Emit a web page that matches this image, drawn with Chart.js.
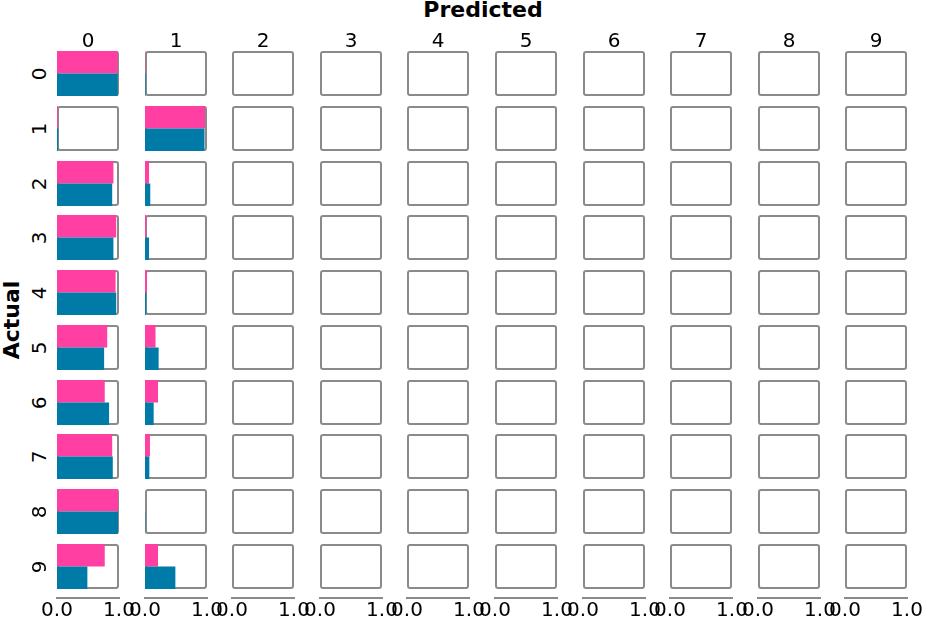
<!DOCTYPE html>
<html>
<head>
<meta charset="utf-8">
<script src="https://cdn.jsdelivr.net/npm/chart.js@4"></script>
<style>
  html, body { margin: 0; padding: 0; background: #fff; }
  #wrap { position: relative; width: 934px; height: 620px; overflow: hidden; font-family: "DejaVu Sans", sans-serif; color: #000; }
  #wrap canvas { position: absolute; }
  .lbl { position: absolute; white-space: nowrap; transform: translate(-50%, -50%); line-height: 1; }
  .rot { transform: translate(-50%, -50%) rotate(-90deg); }
</style>
</head>
<body>
<div id="wrap"></div>
<script>
// ---- data ----
const predictedLabels = ['0','1','2','3','4','5','6','7','8','9'];
const actualLabels    = ['0','1','2','3','4','5','6','7','8','9'];
const seriesNames = ['pink', 'blue'];
// rows = actual class, columns = predicted class
const pinkValues = [
  [0.980, 0.005, 0, 0, 0, 0, 0, 0, 0, 0],
  [0.015, 0.970, 0, 0, 0, 0, 0, 0, 0, 0],
  [0.910, 0.065, 0, 0, 0, 0, 0, 0, 0, 0],
  [0.955, 0.020, 0, 0, 0, 0, 0, 0, 0, 0],
  [0.945, 0.030, 0, 0, 0, 0, 0, 0, 0, 0],
  [0.810, 0.170, 0, 0, 0, 0, 0, 0, 0, 0],
  [0.770, 0.210, 0, 0, 0, 0, 0, 0, 0, 0],
  [0.890, 0.080, 0, 0, 0, 0, 0, 0, 0, 0],
  [0.985, 0.000, 0, 0, 0, 0, 0, 0, 0, 0],
  [0.770, 0.210, 0, 0, 0, 0, 0, 0, 0, 0]
];
const blueValues = [
  [0.980, 0.010, 0, 0, 0, 0, 0, 0, 0, 0],
  [0.020, 0.960, 0, 0, 0, 0, 0, 0, 0, 0],
  [0.890, 0.085, 0, 0, 0, 0, 0, 0, 0, 0],
  [0.910, 0.065, 0, 0, 0, 0, 0, 0, 0, 0],
  [0.955, 0.020, 0, 0, 0, 0, 0, 0, 0, 0],
  [0.760, 0.220, 0, 0, 0, 0, 0, 0, 0, 0],
  [0.840, 0.140, 0, 0, 0, 0, 0, 0, 0, 0],
  [0.900, 0.070, 0, 0, 0, 0, 0, 0, 0, 0],
  [0.985, 0.005, 0, 0, 0, 0, 0, 0, 0, 0],
  [0.490, 0.490, 0, 0, 0, 0, 0, 0, 0, 0]
];
const tickValues = [0, 1];
const tickLabels = ['0.0', '1.0'];

// ---- styles ----
const PINK = '#ff3fa1';
const BLUE = '#007ba7';
const FRAME = '#8a8a8a';
const FONT = '"DejaVu Sans", sans-serif';
const CELL_W = 62, CELL_H = 45;
const colLeft = c => Math.round(57 + 87.6 * c);
const rowTop  = r => Math.round(51 + 54.78 * r);

const wrap = document.getElementById('wrap');
function addCanvas(left, top, w, h) {
  const cv = document.createElement('canvas');
  cv.width = w; cv.height = h;
  cv.style.left = left + 'px'; cv.style.top = top + 'px';
  cv.style.width = w + 'px'; cv.style.height = h + 'px';
  wrap.appendChild(cv);
  return cv;
}
function addLabel(text, x, y, size, bold, rotate) {
  const d = document.createElement('div');
  d.className = 'lbl' + (rotate ? ' rot' : '');
  d.textContent = text;
  d.style.left = x + 'px'; d.style.top = y + 'px';
  d.style.fontSize = size + 'px';
  d.style.fontWeight = bold ? 'bold' : 'normal';
  wrap.appendChild(d);
}

const framePlugin = {
  id: 'frame',
  beforeDatasetsDraw(chart) {
    const { ctx, chartArea: a } = chart;
    ctx.save();
    ctx.strokeStyle = FRAME;
    ctx.lineWidth = 2;
    ctx.beginPath();
    ctx.roundRect(a.left + 1, a.top + 1, a.width - 2, a.height - 2, 2);
    ctx.stroke();
    ctx.restore();
  }
};

Chart.defaults.font.family = FONT;

// ---- the 10 x 10 grid of small bar charts ----
for (let r = 0; r < actualLabels.length; r++) {
  for (let c = 0; c < predictedLabels.length; c++) {
    const cv = addCanvas(colLeft(c), rowTop(r), CELL_W, CELL_H);
    new Chart(cv, {
      type: 'bar',
      data: {
        labels: seriesNames,
        datasets: [{
          data: [pinkValues[r][c], blueValues[r][c]],
          backgroundColor: [PINK, BLUE],
          borderWidth: 0,
          inflateAmount: 0,
          categoryPercentage: 1,
          barPercentage: 1
        }]
      },
      options: {
        indexAxis: 'y',
        responsive: false,
        animation: false,
        events: [],
        layout: { padding: 0 },
        plugins: { legend: { display: false }, tooltip: { enabled: false } },
        scales: {
          x: { display: false, min: 0, max: 1 },
          y: { display: false }
        }
      },
      plugins: [framePlugin]
    });
  }
}

// ---- bottom x axes (one per column) ----
for (let c = 0; c < predictedLabels.length; c++) {
  const PAD = 30;
  const cv = addCanvas(colLeft(c) - PAD, 573, CELL_W + 2 * PAD, 50);
  new Chart(cv, {
    type: 'scatter',
    data: { datasets: [{ data: [] }] },
    options: {
      responsive: false,
      animation: false,
      events: [],
      layout: { padding: { left: PAD, right: PAD, top: 0, bottom: 0 } },
      plugins: { legend: { display: false }, tooltip: { enabled: false } },
      scales: {
        x: {
          type: 'linear', min: 0, max: 1,
          afterBuildTicks: s => { s.ticks = tickValues.map(v => ({ value: v })); },
          ticks: {
            callback: (v, i) => tickLabels[i],
            font: { family: FONT, size: 20 },
            color: '#000',
            maxRotation: 0, minRotation: 0, autoSkip: false,
            padding: 1
          },
          grid: { display: false, drawTicks: false },
          border: { display: true, color: FRAME, width: 2 }
        },
        y: { display: false, min: 0, max: 1 }
      }
    }
  });
}

// ---- text labels ----
addLabel('Predicted', 483, 10, 22, true, false);
addLabel('Actual', 12, 320, 22, true, true);
for (let c = 0; c < predictedLabels.length; c++) {
  addLabel(predictedLabels[c], colLeft(c) + CELL_W / 2, 40, 20, false, false);
}
for (let r = 0; r < actualLabels.length; r++) {
  addLabel(actualLabels[r], 39, rowTop(r) + CELL_H / 2, 20, false, true);
}
</script>
</body>
</html>
